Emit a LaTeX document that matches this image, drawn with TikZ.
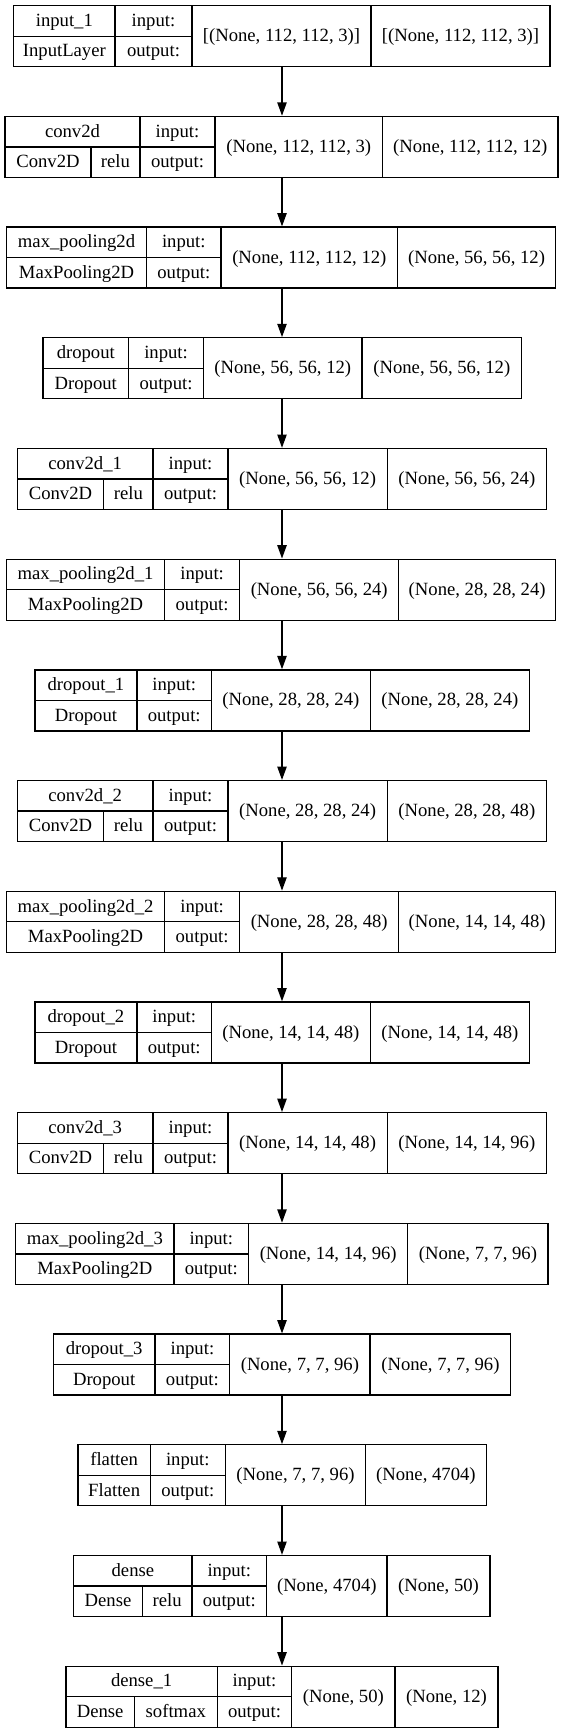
\documentclass[tikz,border=0pt]{standalone}
\usepackage{fontspec}
\setmainfont{Liberation Serif}
\usetikzlibrary{arrows.meta,fit}
% #1 id, #2 top, #3 left, #4 activation divider (empty if none), #5 name divider, #6 io divider, #7 shape divider, #8 right
\newcommand{\kbox}[8]{%
  \pgfmathsetmacro\kT{#2}%
  \pgfmathsetmacro\kB{#2+61}%
  \pgfmathsetmacro\kM{#2+30.5}%
  \def\kL{#3}\def\kA{#4}\def\kN{#5}\def\kI{#6}\def\kS{#7}\def\kR{#8}%
  \node[frame, fit={(#3,\kT) (#8,\kB)}] (#1) {};
  \draw[cell] (#5,\kT) -- (#5,\kB) (#6,\kT) -- (#6,\kB) (#7,\kT) -- (#7,\kB) (#3,\kM) -- (#6,\kM);
  \if\relax\detokenize{#4}\relax\else\draw[cell] (#4,\kM) -- (#4,\kB);\fi
}
% #1 id, #2 name, #3 class, #4 activation, #5 input shape, #6 output shape
\newcommand{\ktext}[6]{%
  \if\relax\detokenize{#4}\relax
    \node[txt] (#1-cls) at ({(\kL+\kN)/2},{\kT+51.25}) {#3};
  \else
    \node[txt] (#1-cls) at ({(\kL+\kA)/2},{\kT+51.25}) {#3};
    \node[txt] (#1-act) at ({(\kA+\kN)/2},{\kT+51.25}) {#4};
  \fi
  \node[txt] (#1-name) at ({(\kL+\kN)/2},{\kT+20.75}) {#2};
  \node[txt] (#1-inl) at ({(\kN+\kI)/2},{\kT+20.75}) {input:};
  \node[txt] (#1-outl) at ({(\kN+\kI)/2},{\kT+51.25}) {output:};
  \node[txt] (#1-ins) at ({(\kI+\kS)/2},{\kT+36}) {#5};
  \node[txt] (#1-outs) at ({(\kS+\kR)/2},{\kT+36}) {#6};
}
\begin{document}
\begin{tikzpicture}[x=0.75pt,y=-0.75pt,
  txt/.style={inner sep=0pt, anchor=base, font=\fontsize{14pt}{16pt}\selectfont},
  frame/.style={draw=black, line width=1pt, inner sep=0pt},
  cell/.style={draw=black, line width=1pt},
  arr/.style={draw=black, line width=1pt, -{Triangle[length=10pt,width=7pt]}}]
\useasboundingbox (0,0) rectangle (563,1733);
\fill[white] (0,0) rectangle (563,1733);

\kbox{L1}{5.7}{13.7}{}{115}{192}{371}{550}
\ktext{L1}{input\_1}{InputLayer}{}{[(None, 112, 112, 3)]}{[(None, 112, 112, 3)]}

\kbox{L2}{116.4}{5}{91}{140}{215}{382.5}{558}
\ktext{L2}{conv2d}{Conv2D}{relu}{(None, 112, 112, 3)}{(None, 112, 112, 12)}

\kbox{L3}{227.1}{6.5}{}{146.6}{221}{397.7}{555.5}
\ktext{L3}{max\_pooling2d}{MaxPooling2D}{}{(None, 112, 112, 12)}{(None, 56, 56, 12)}

\kbox{L4}{337.8}{43}{}{128.6}{203.5}{362}{521.6}
\ktext{L4}{dropout}{Dropout}{}{(None, 56, 56, 12)}{(None, 56, 56, 12)}

\kbox{L5}{448.5}{17.3}{103.7}{153}{228}{387.2}{546.5}
\ktext{L5}{conv2d\_1}{Conv2D}{relu}{(None, 56, 56, 12)}{(None, 56, 56, 24)}

\kbox{L6}{559.2}{6.5}{}{164.6}{239.6}{398.8}{555.5}
\ktext{L6}{max\_pooling2d\_1}{MaxPooling2D}{}{(None, 56, 56, 24)}{(None, 28, 28, 24)}

\kbox{L7}{669.9}{35}{}{136.9}{211.5}{370.3}{529.5}
\ktext{L7}{dropout\_1}{Dropout}{}{(None, 28, 28, 24)}{(None, 28, 28, 24)}

\kbox{L8}{780.6}{17.3}{103.7}{153}{228}{387.2}{546.5}
\ktext{L8}{conv2d\_2}{Conv2D}{relu}{(None, 28, 28, 24)}{(None, 28, 28, 48)}

\kbox{L9}{891.3}{6.5}{}{164.6}{239.6}{398.8}{555.5}
\ktext{L9}{max\_pooling2d\_2}{MaxPooling2D}{}{(None, 28, 28, 48)}{(None, 14, 14, 48)}

\kbox{L10}{1002}{35}{}{136.9}{211.5}{370.3}{529.5}
\ktext{L10}{dropout\_2}{Dropout}{}{(None, 14, 14, 48)}{(None, 14, 14, 48)}

\kbox{L11}{1112.7}{17.3}{103.7}{153}{228}{387.2}{546.5}
\ktext{L11}{conv2d\_3}{Conv2D}{relu}{(None, 14, 14, 48)}{(None, 14, 14, 96)}

\kbox{L12}{1223.4}{15.8}{}{174}{248.6}{407.8}{548}
\ktext{L12}{max\_pooling2d\_3}{MaxPooling2D}{}{(None, 14, 14, 96)}{(None, 7, 7, 96)}

\kbox{L13}{1334.1}{53.3}{}{155}{229.8}{370}{510.8}
\ktext{L13}{dropout\_3}{Dropout}{}{(None, 7, 7, 96)}{(None, 7, 7, 96)}

\kbox{L14}{1444.8}{78}{}{150.3}{225.3}{365.6}{486.2}
\ktext{L14}{flatten}{Flatten}{}{(None, 7, 7, 96)}{(None, 4704)}

\kbox{L15}{1555.5}{73.8}{142.3}{192}{266.6}{387}{490}
\ktext{L15}{dense}{Dense}{relu}{(None, 4704)}{(None, 50)}

\kbox{L16}{1666.2}{66}{134.4}{217.2}{291.8}{395}{498}
\ktext{L16}{dense\_1}{Dense}{softmax}{(None, 50)}{(None, 12)}

\coordinate (ax) at (282,0);
\foreach \i [evaluate=\i as \j using int(\i+1)] in {1,...,15}
  \draw[arr] (L\i.south -| ax) -- (L\j.north -| ax);
\end{tikzpicture}
\end{document}
